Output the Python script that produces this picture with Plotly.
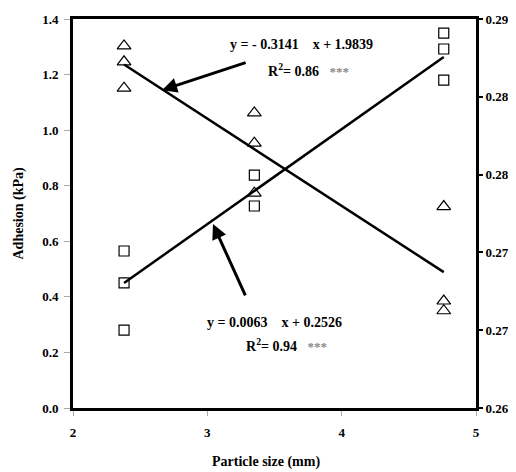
import plotly.graph_objects as go

# Data
x_tri = [2.38, 2.38, 2.38, 3.35, 3.35, 3.35, 4.76, 4.76, 4.76]
y_tri = [1.303, 1.246, 1.151, 1.062, 0.953, 0.773, 0.725, 0.385, 0.35]
x_sq = [2.38, 2.38, 2.38, 3.35, 3.35, 4.76, 4.76, 4.76]
y_sq = [0.565, 0.45, 0.28, 0.838, 0.727, 1.349, 1.292, 1.18]
trend_x = [2.38, 4.76]
trend_down = [1.236, 0.489]
trend_up = [0.45, 1.263]
right_ticks = [0.26, 0.266, 0.272, 0.278, 0.284, 0.29]
right_labels = ["0.26", "0.27", "0.27", "0.28", "0.28", "0.29"]

FONT = "Liberation Serif"
fig = go.Figure()
fig.add_trace(go.Scatter(x=trend_x, y=trend_down, mode="lines",
                         line=dict(color="black", width=2.5), showlegend=False))
fig.add_trace(go.Scatter(x=trend_x, y=trend_up, mode="lines",
                         line=dict(color="black", width=2.5), showlegend=False))
fig.add_trace(go.Scatter(x=x_tri, y=y_tri, mode="markers",
                         marker=dict(symbol="triangle-up-open", size=12, color="black",
                                     line=dict(width=1.2)), showlegend=False))
fig.add_trace(go.Scatter(x=x_sq, y=y_sq, mode="markers",
                         marker=dict(symbol="square-open", size=10, color="black",
                                     line=dict(width=1.2)), showlegend=False))
fig.add_trace(go.Scatter(x=[2], y=[0.26], yaxis="y2", mode="markers",
                         marker=dict(opacity=0), showlegend=False, hoverinfo="skip"))

tickfont = dict(family=FONT, size=13, color="black", weight="bold")
titlefont = dict(family=FONT, size=14, color="black", weight="bold")
fig.update_layout(
    width=508, height=464,
    margin=dict(l=65, r=40, t=11, b=64),
    font=dict(family=FONT, color="black"),
    plot_bgcolor="white", paper_bgcolor="white",
    xaxis=dict(range=[2, 5], tickvals=[2, 3, 4, 5], showgrid=False, zeroline=False,
               ticks="outside", ticklen=5, tickcolor="#aaaaaa", tickfont=tickfont,
               ticklabelstandoff=5,
               showline=True, linecolor="black", linewidth=3, mirror=True, automargin=False),
    yaxis=dict(range=[0, 1.4], dtick=0.2, tickformat=".1f", showgrid=False, zeroline=False,
               ticks="outside", ticklen=6, tickcolor="#aaaaaa", tickfont=tickfont,
               ticklabelstandoff=3,
               showline=True, linecolor="black", linewidth=3, mirror=True, automargin=False),
    yaxis2=dict(range=[0.26, 0.29], overlaying="y", side="right", tickvals=right_ticks,
                ticktext=right_labels, showgrid=False, zeroline=False,
                ticks="outside", ticklen=4, tickcolor="black", tickwidth=2, tickfont=tickfont,
                showline=True, linecolor="black", linewidth=3, automargin=False),
)

# Axis titles
fig.add_annotation(x=0.48, y=0, xref="paper", yref="paper", yshift=-54, yanchor="middle",
                   text="Particle size (mm)", showarrow=False, font=titlefont)
fig.add_annotation(x=0, y=0.5, xref="paper", yref="paper", xshift=-55, xanchor="center",
                   text="Adhesion (kPa)", textangle=-90, showarrow=False, font=titlefont)

afont = dict(family=FONT, size=14, color="black", weight="bold")
star = "<span style='color:#888;font-size:13px'>***</span>"
fig.add_annotation(x=3.698, y=1.31, text="y = - 0.3141    x + 1.9839", showarrow=False, font=afont)
fig.add_annotation(x=3.75, y=1.216, text="R<sup>2</sup>= 0.86   " + star, showarrow=False, font=afont)
fig.add_annotation(x=3.497, y=0.309, text="y = 0.0063    x + 0.2526", showarrow=False, font=afont)
fig.add_annotation(x=3.593, y=0.227, text="R<sup>2</sup>= 0.94   " + star, showarrow=False, font=afont)

fig.add_annotation(x=2.663, y=1.144, ax=3.296, ay=1.245, axref="x", ayref="y",
                   xref="x", yref="y", text="", showarrow=True, arrowhead=2,
                   arrowsize=1, arrowwidth=3, arrowcolor="black")
fig.add_annotation(x=3.042, y=0.662, ax=3.288, ay=0.4, axref="x", ayref="y",
                   xref="x", yref="y", text="", showarrow=True, arrowhead=2,
                   arrowsize=1, arrowwidth=3, arrowcolor="black")

fig.write_html("out.html")
